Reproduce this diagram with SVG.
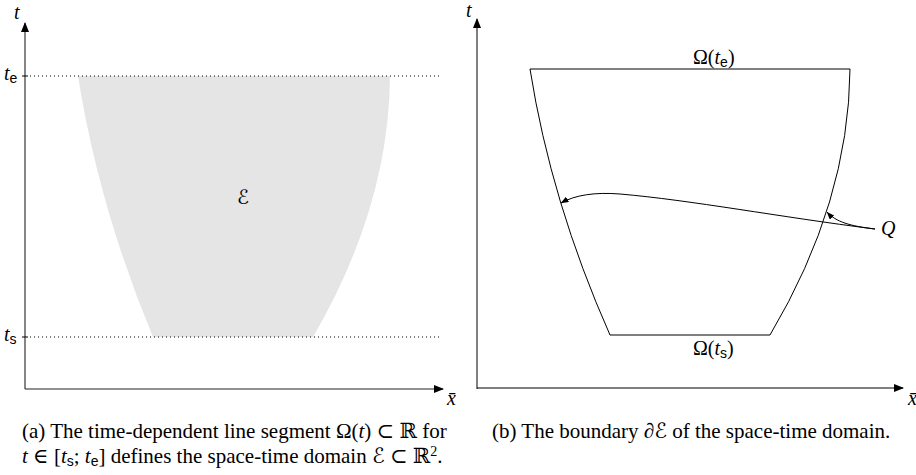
<svg xmlns="http://www.w3.org/2000/svg" width="916" height="475" viewBox="0 0 916 475">
<style>
.ax{fill:none;stroke:#222;stroke-width:1.1}
.ln{fill:none;stroke:#000;stroke-width:1}
.dot{fill:none;stroke:#000;stroke-width:1;stroke-dasharray:1 3}
.m{font-family:"Liberation Serif","DejaVu Serif",serif;font-size:20px;fill:#000}
.i{font-style:italic}
.sub{font-family:"Liberation Sans",Arial,sans-serif;font-size:14px}
.cap{font-family:"Liberation Serif","DejaVu Serif",serif;font-size:21px;fill:#000}
.ds{font-family:"DejaVu Serif","DejaVu Sans",serif}
</style>
<defs>
<marker id="ah" markerWidth="10" markerHeight="8" refX="9" refY="4" orient="auto" markerUnits="userSpaceOnUse">
<path d="M0,0 L10,4 L0,8 Z" fill="#000"/>
</marker>
<marker id="sh" markerWidth="8" markerHeight="6" refX="7.5" refY="3" orient="auto" markerUnits="userSpaceOnUse">
<path d="M0,0 L8,3 L0,6 Z" fill="#000"/>
</marker>
</defs>

<g id="panel-a">
<g id="domain-E">
<path d="M78,76 L390,76 Q389,206.5 313,337 L153,337 Q98.7,206.5 78,76 Z" fill="#e5e5e5"/>
<text x="237" y="204" class="m i ds" font-size="19">ℰ</text>
</g>
<g id="axes-a">
<line class="ax" x1="25" y1="389" x2="25" y2="23" marker-end="url(#ah)"/>
<line class="ax" x1="25" y1="389" x2="443" y2="389" marker-end="url(#ah)"/>
<text x="14" y="19" class="m i">t</text>
<text x="447" y="405" class="m i">x̄</text>
</g>
<g id="te-level">
<line class="ln" x1="22" y1="76" x2="28" y2="76"/>
<line class="dot" x1="30" y1="76" x2="440" y2="76"/>
<text x="4" y="80" class="m"><tspan class="i">t</tspan><tspan class="sub" dy="3">e</tspan></text>
</g>
<g id="ts-level">
<line class="ln" x1="22" y1="337" x2="28" y2="337"/>
<line class="dot" x1="30" y1="337" x2="440" y2="337"/>
<text x="4" y="341" class="m"><tspan class="i">t</tspan><tspan class="sub" dy="3">s</tspan></text>
</g>
</g>

<g id="panel-b">
<g id="axes-b">
<line class="ln" x1="477" y1="389" x2="477" y2="19" marker-end="url(#ah)"/>
<line class="ln" x1="477" y1="388" x2="903" y2="388" marker-end="url(#ah)"/>
<text x="466" y="17" class="m i" font-size="18">t</text>
<text x="908" y="405" class="m i">x̄</text>
</g>
<g id="boundary">
<path class="ln" d="M530,69 L850,69 Q849,202 770,335 L610,335 Q551,202 530,69 Z"/>
<text x="693" y="64" class="m">Ω(<tspan class="i">t</tspan><tspan class="sub" dy="3">e</tspan><tspan dy="-3">)</tspan></text>
<text x="693" y="355" class="m">Ω(<tspan class="i">t</tspan><tspan class="sub" dy="3">s</tspan><tspan dy="-3">)</tspan></text>
</g>
<g id="label-Q">
<text x="881" y="235" class="m i">Q</text>
</g>
<g id="connectors">
<path class="ln" d="M875,229 C780,217 690,200 620,194 C595,192 575,195 561,203" marker-end="url(#sh)"/>
<path class="ln" d="M875,229 C850,226 836,222 827,212" marker-end="url(#sh)"/>
</g>
</g>

<g id="captions">
<text x="22" y="438" class="cap">(a) The time-dependent line segment Ω(<tspan class="i">t</tspan>) ⊂ <tspan class="ds">ℝ</tspan> for</text>
<text x="22" y="463" class="cap"><tspan class="i">t</tspan> ∈ [<tspan class="i">t</tspan><tspan class="sub" dy="3">s</tspan><tspan dy="-3">; </tspan><tspan class="i">t</tspan><tspan class="sub" dy="3">e</tspan><tspan dy="-3">] defines the space-time domain </tspan><tspan class="i ds">ℰ</tspan> ⊂ <tspan class="ds">ℝ</tspan><tspan font-size="14" dy="-7">2</tspan><tspan dy="7">.</tspan></text>
<text x="492" y="438" class="cap">(b) The boundary <tspan class="i">∂</tspan><tspan class="i ds">ℰ</tspan> of the space-time domain.</text>
</g>
</svg>
